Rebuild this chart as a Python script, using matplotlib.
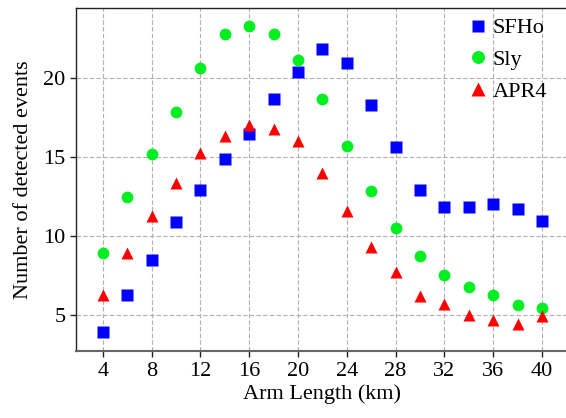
import numpy as np
import matplotlib
matplotlib.use('Agg')
import matplotlib.pyplot as plt

plt.rcParams['font.family'] = ['Liberation Serif', 'DejaVu Serif']
plt.rcParams['mathtext.fontset'] = 'stix'

arm_length = [4, 6, 8, 10, 12, 14, 16, 18, 20, 22, 24, 26, 28, 30, 32, 34, 36, 38, 40]
sfho = [3.9, 6.25, 8.5, 10.9, 12.9, 14.9, 16.5, 18.7, 20.4, 21.9, 21.0, 18.3, 15.65,
        12.9, 11.85, 11.85, 12.05, 11.7, 10.95]
sly = [8.9, 12.5, 15.2, 17.85, 20.65, 22.8, 23.35, 22.85, 21.15, 18.7, 15.7, 12.85,
       10.5, 8.75, 7.5, 6.75, 6.25, 5.6, 5.45]
apr4 = [6.25, 8.9, 11.25, 13.35, 15.25, 16.35, 17.05, 16.8, 16.05, 14.0, 11.6, 9.3,
        7.7, 6.2, 5.7, 5.0, 4.65, 4.4, 4.95]

fig = plt.figure(figsize=(5.66, 4.18), dpi=100)
ax = fig.add_axes([0.134, 0.160, 0.871, 0.822])

ax.plot(arm_length, sfho, 's', color='#0000ff', ms=8, mec='none', label='SFHo', zorder=3)
ax.plot(arm_length, sly, 'o', color='#00ee22', ms=8.5, mec='none', label='Sly', zorder=3)
ax.plot(arm_length, apr4, '^', color='#ff0000', ms=9, mec='none', label='APR4', zorder=3)

ax.set_xlim(1.8, 42.2)
ax.set_ylim(2.7, 24.5)
ax.set_xticks(np.arange(4, 41, 4))
ax.set_yticks([5, 10, 15, 20])
ax.tick_params(labelsize=16, direction='out', length=4, width=1, color='#222222')
ax.grid(True, ls='--', color='#b0b0b0', lw=0.8, dashes=(4, 2))
ax.set_axisbelow(True)
for s in ax.spines.values():
    s.set_color('#222222')
    s.set_linewidth(1.0)
ax.spines['bottom'].set_color('#666666')
ax.spines['bottom'].set_linewidth(1.5)

ax.set_xlabel('Arm Length (km)', fontsize=16, labelpad=3)
ax.set_ylabel('Number of detected events', fontsize=16, labelpad=7)

ax.legend(loc='upper right', bbox_to_anchor=(0.987, 1.015), frameon=False, fontsize=16,
          handletextpad=0.05, labelspacing=0.5, handlelength=1.2, borderaxespad=0.3,
          markerscale=1.1)

fig.savefig('out.png', dpi=100)
